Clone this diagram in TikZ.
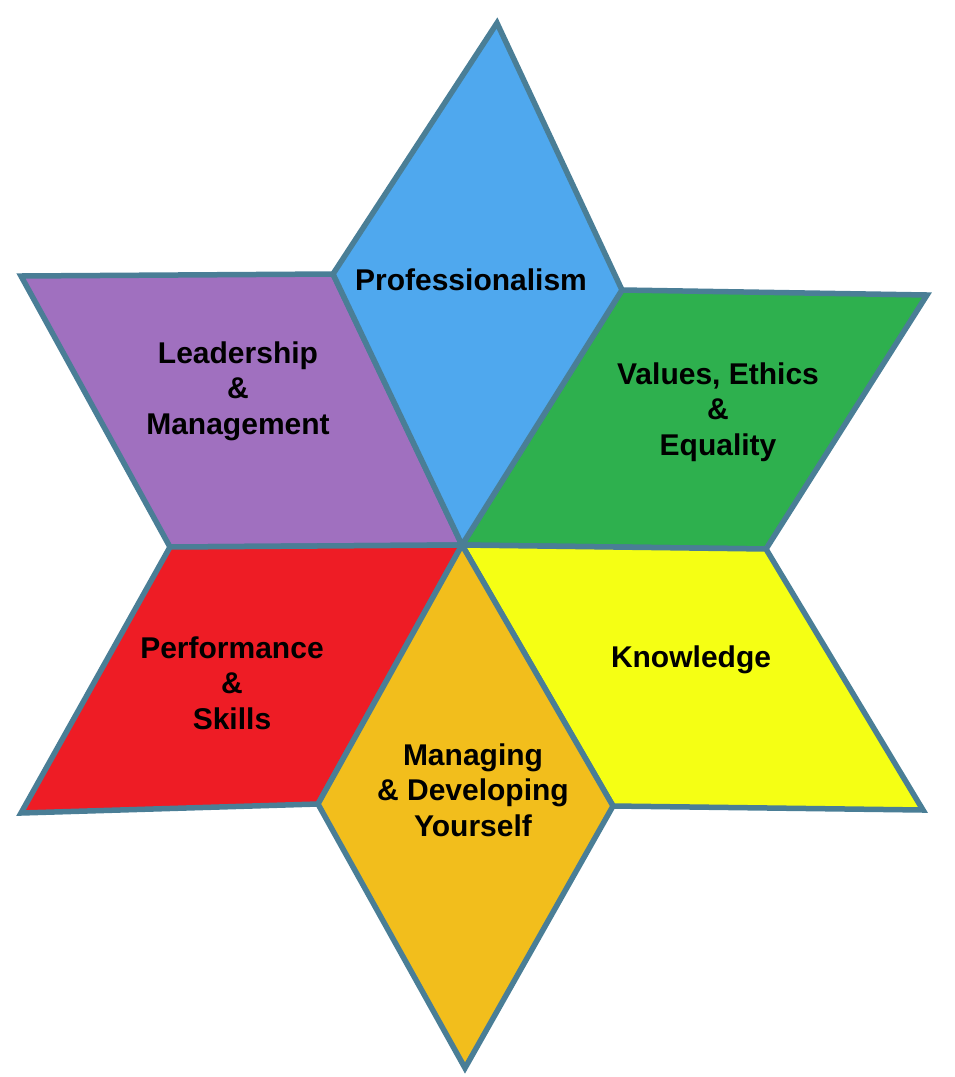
\documentclass[tikz,border=0pt]{standalone}
\usepackage{fontspec}
\setmainfont{Liberation Sans}
\usepackage{tikz}
\definecolor{rim}{HTML}{4A7E96}
\definecolor{profblue}{HTML}{4FA8EE}
\definecolor{leadpurple}{HTML}{A070BF}
\definecolor{valgreen}{HTML}{2EB04E}
\definecolor{perfred}{HTML}{EE1C25}
\definecolor{knowyellow}{HTML}{F5FF14}
\definecolor{manorange}{HTML}{F2BE1C}

\begin{document}
\begin{tikzpicture}[x=1pt,y=-1pt,
    petal/.style={draw=rim,line width=5.5pt,line join=miter},
    every node/.style={align=center,font=\fontsize{30}{35.5}\selectfont\bfseries}]
    \useasboundingbox (0,0) rectangle (955,1077);
    % corners of the star
    \coordinate (c) at (462,545);
    \coordinate (top) at (497,23);
    \coordinate (ul) at (333,274);
    \coordinate (ur) at (622,290);
    \coordinate (farul) at (21,276);
    \coordinate (farur) at (927,295);
    \coordinate (ml) at (170,547);
    \coordinate (mr) at (766,549);
    \coordinate (farll) at (21,813);
    \coordinate (farlr) at (923,810);
    \coordinate (ll) at (318,804);
    \coordinate (lr) at (613,806);
    \coordinate (bot) at (465,1068);
    % petals
    \draw[petal,fill=leadpurple] (farul) -- (ul) -- (c) -- (ml) -- cycle;
    \draw[petal,fill=valgreen] (ur) -- (farur) -- (mr) -- (c) -- cycle;
    \draw[petal,fill=perfred] (ml) -- (c) -- (ll) -- (farll) -- cycle;
    \draw[petal,fill=knowyellow] (c) -- (mr) -- (farlr) -- (lr) -- cycle;
    \draw[petal,fill=profblue] (top) -- (ur) -- (c) -- (ul) -- cycle;
    \draw[petal,fill=manorange] (c) -- (lr) -- (bot) -- (ll) -- cycle;
    % labels
    \node (prof) at (471,280) {Professionalism};
    \node (lead) at (238,391) {Leadership\\\&\\Management};
    \node (vals) at (718,412) {Values, Ethics\\\&\\Equality};
    \node (know) at (691,660) {Knowledge};
    \node (perf) at (232,683) {Performance\\\&\\Skills};
    \node (mana) at (473,790) {Managing\\\& Developing\\Yourself};
\end{tikzpicture}
\end{document}
